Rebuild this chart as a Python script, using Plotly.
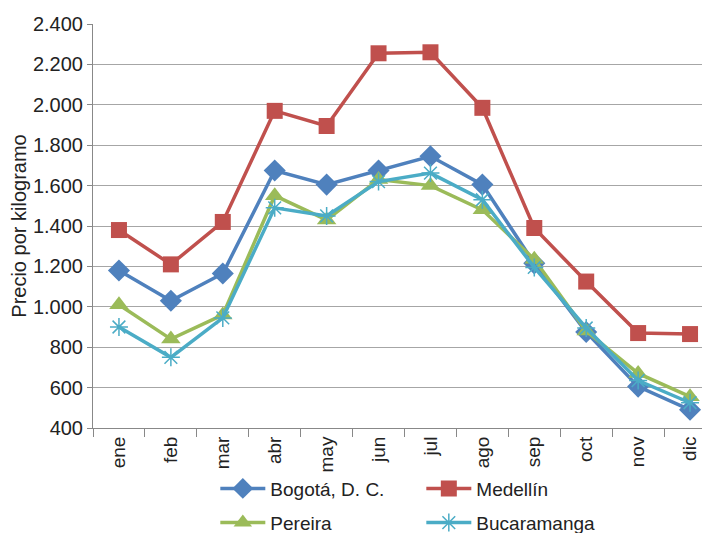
import plotly.graph_objects as go

meses = ["ene", "feb", "mar", "abr", "may", "jun", "jul", "ago", "sep", "oct", "nov", "dic"]
bogota = [1180, 1030, 1165, 1675, 1605, 1675, 1745, 1605, 1215, 875, 605, 490]
medellin = [1380, 1210, 1420, 1970, 1895, 2255, 2260, 1985, 1390, 1125, 870, 865]
pereira = [1010, 840, 960, 1550, 1430, 1630, 1600, 1480, 1235, 880, 670, 555]
bucaramanga = [900, 750, 945, 1490, 1450, 1620, 1662, 1530, 1195, 895, 635, 525]

series = [
    ("Bogotá, D. C.", bogota, "#4F81BD", "diamond", 17, "legend"),
    ("Medellín", medellin, "#C0504D", "square", 16, "legend"),
    ("Pereira", pereira, "#9BBB59", "triangle-up", 17, "legend2"),
    ("Bucaramanga", bucaramanga, "#4BACC6", "asterisk-open", 15, "legend2"),
]

fig = go.Figure()
for name, vals, col, sym, sz, leg in series:
    marker = dict(symbol=sym, size=sz, color=col)
    if sym == "asterisk-open":
        marker["line"] = dict(color=col, width=1.5)
    fig.add_trace(go.Scatter(x=meses, y=vals, name=name, mode="lines+markers",
                             line=dict(color=col, width=3.5), marker=marker, legend=leg))

FS = 20
font = dict(family="Liberation Sans, Arial, sans-serif", size=FS, color="#222222")
leg_common = dict(orientation="h", xref="container", yref="container",
                  x=0.292, xanchor="left", yanchor="top",
                  entrywidth=146, entrywidthmode="pixels",
                  font=dict(size=19), bgcolor="rgba(0,0,0,0)",
                  itemwidth=45, tracegroupgap=0)
fig.update_layout(
    width=710, height=533,
    margin=dict(l=85, r=2, t=16, b=113, autoexpand=False),
    paper_bgcolor="white", plot_bgcolor="white",
    separators=",.",
    font=font,
    showlegend=True,
    legend=dict(leg_common, y=0.134),
    legend2=dict(leg_common, y=0.070),
)
fig.update_xaxes(
    type="category", tickangle=-90, tickson="boundaries", ticks="outside",
    ticklen=8, tickcolor="#888888", showline=True, linecolor="#888888", linewidth=1,
    showgrid=False, tickfont=dict(size=19), range=[-0.5, 11.5], automargin=False,
)
fig.update_yaxes(
    range=[400, 2400], dtick=200, tickformat=",d", ticks="outside", ticklen=5,
    tickcolor="#888888", showline=True, linecolor="#888888", linewidth=1,
    showgrid=True, gridcolor="#a6a6a6", gridwidth=1.3, zeroline=False,
    tickfont=dict(size=FS), automargin=False,
    title=dict(text="Precio por kilogramo", font=dict(size=FS), standoff=7),
)
fig.write_html("out.html")
